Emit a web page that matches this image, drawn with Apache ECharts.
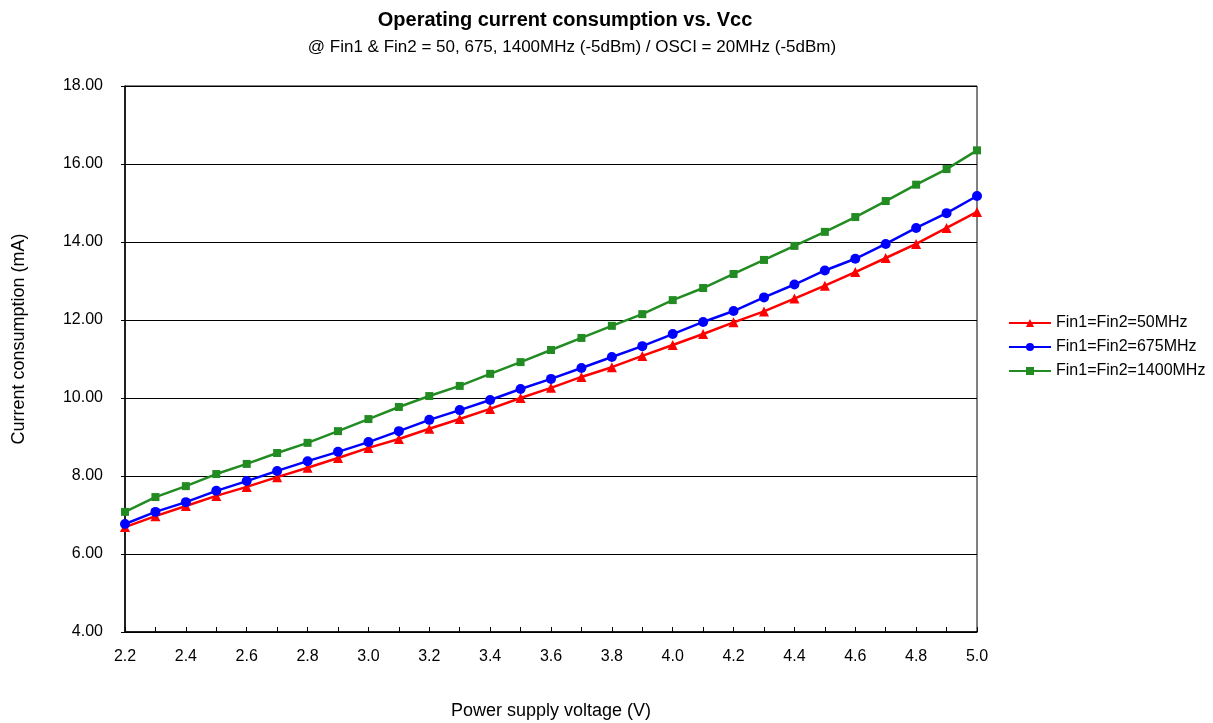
<!DOCTYPE html>
<html>
<head>
<meta charset="utf-8">
<title>Operating current consumption vs. Vcc</title>
<script src="https://cdn.jsdelivr.net/npm/echarts@6/dist/echarts.min.js"></script>
<style>
  html, body { margin: 0; padding: 0; background: #fff; }
  #chart { width: 1213px; height: 723px; }
</style>
</head>
<body>
<div id="chart"></div>
<script>
// Supply voltage steps (V)
const voltages = ['2.2','2.3','2.4','2.5','2.6','2.7','2.8','2.9','3.0','3.1','3.2','3.3','3.4','3.5','3.6','3.7','3.8','3.9','4.0','4.1','4.2','4.3','4.4','4.5','4.6','4.7','4.8','4.9','5.0'];

// Current consumption (mA) per input frequency
const fin50 = [6.69, 6.97, 7.23, 7.49, 7.72, 7.97, 8.21, 8.46, 8.72, 8.95, 9.21, 9.46, 9.72, 10.00, 10.26, 10.54, 10.79, 11.08, 11.36, 11.64, 11.94, 12.22, 12.55, 12.88, 13.23, 13.59, 13.95, 14.36, 14.77];
const fin675 = [6.77, 7.08, 7.33, 7.62, 7.87, 8.13, 8.38, 8.62, 8.87, 9.15, 9.44, 9.69, 9.95, 10.23, 10.49, 10.77, 11.05, 11.33, 11.64, 11.95, 12.23, 12.58, 12.91, 13.27, 13.57, 13.95, 14.36, 14.74, 15.18];
const fin1400 = [7.08, 7.46, 7.74, 8.05, 8.31, 8.59, 8.85, 9.15, 9.46, 9.77, 10.05, 10.31, 10.62, 10.92, 11.23, 11.54, 11.85, 12.15, 12.51, 12.82, 13.18, 13.54, 13.90, 14.26, 14.64, 15.05, 15.47, 15.87, 16.35];

const seriesNames = ['Fin1=Fin2=50MHz', 'Fin1=Fin2=675MHz', 'Fin1=Fin2=1400MHz'];

const FONT = '"Liberation Sans", Arial, sans-serif';

const chart = echarts.init(document.getElementById('chart'), null, { renderer: 'canvas' });

function lineSeries(name, data, color, symbol, size) {
  return {
    name: name,
    type: 'line',
    data: data,
    symbol: symbol,
    symbolSize: size,
    showAllSymbol: true,
    lineStyle: { color: color, width: 2.5 },
    itemStyle: { color: color },
    emphasis: { disabled: true },
    z: 3
  };
}

chart.setOption({
  animation: false,
  backgroundColor: '#fff',
  title: [
    {
      text: 'Operating current consumption vs. Vcc',
      left: 560, top: 5, textAlign: 'center',
      textStyle: { fontFamily: FONT, fontSize: 20, fontWeight: 'bold', color: '#000' }
    },
    {
      text: '@ Fin1 & Fin2 = 50, 675, 1400MHz (-5dBm) / OSCI = 20MHz (-5dBm)',
      left: 567, top: 34, textAlign: 'center',
      textStyle: { fontFamily: FONT, fontSize: 17, fontWeight: 'normal', color: '#000' }
    }
  ],
  legend: {
    orient: 'vertical',
    left: 1003, top: 310,
    itemWidth: 42, itemHeight: 10, itemGap: 8,
    data: seriesNames,
    textStyle: { fontFamily: FONT, fontSize: 16, color: '#000' }
  },
  grid: {
    left: 125, right: 236, top: 86, bottom: 91,
    show: true, borderColor: '#000', borderWidth: 1,
    containLabel: false,
    outerBoundsMode: 'none'
  },
  xAxis: {
    type: 'category',
    data: voltages,
    boundaryGap: false,
    name: 'Power supply voltage (V)',
    nameLocation: 'middle',
    nameGap: 70,
    nameTextStyle: { fontFamily: FONT, fontSize: 18, color: '#000' },
    axisLine: { lineStyle: { color: '#000', width: 1.5 } },
    axisTick: { inside: true, length: 5, interval: 0, lineStyle: { color: '#000' } },
    axisLabel: { interval: 1, margin: 17, fontFamily: FONT, fontSize: 16, color: '#000' },
    splitLine: { show: false }
  },
  yAxis: {
    type: 'value',
    min: 4, max: 18, interval: 2,
    name: 'Current consumption (mA)',
    nameLocation: 'middle',
    nameGap: 97,
    nameRotate: 90,
    nameTextStyle: { fontFamily: FONT, fontSize: 18, color: '#000', padding: [0, 0, 0, 40] },
    axisLine: { show: true, lineStyle: { color: '#000', width: 1.5 } },
    axisTick: { show: true, length: 4, lineStyle: { color: '#000' } },
    axisLabel: {
      margin: 22, fontFamily: FONT, fontSize: 16, color: '#000',
      formatter: v => v.toFixed(2)
    },
    splitLine: { show: true, lineStyle: { color: '#000', width: 1 } }
  },
  series: [
    lineSeries(seriesNames[0], fin50, '#ff0000', 'triangle', 10),
    lineSeries(seriesNames[1], fin675, '#0000ff', 'circle', 10),
    lineSeries(seriesNames[2], fin1400, '#228b22', 'rect', 8)
  ]
});
</script>
</body>
</html>
